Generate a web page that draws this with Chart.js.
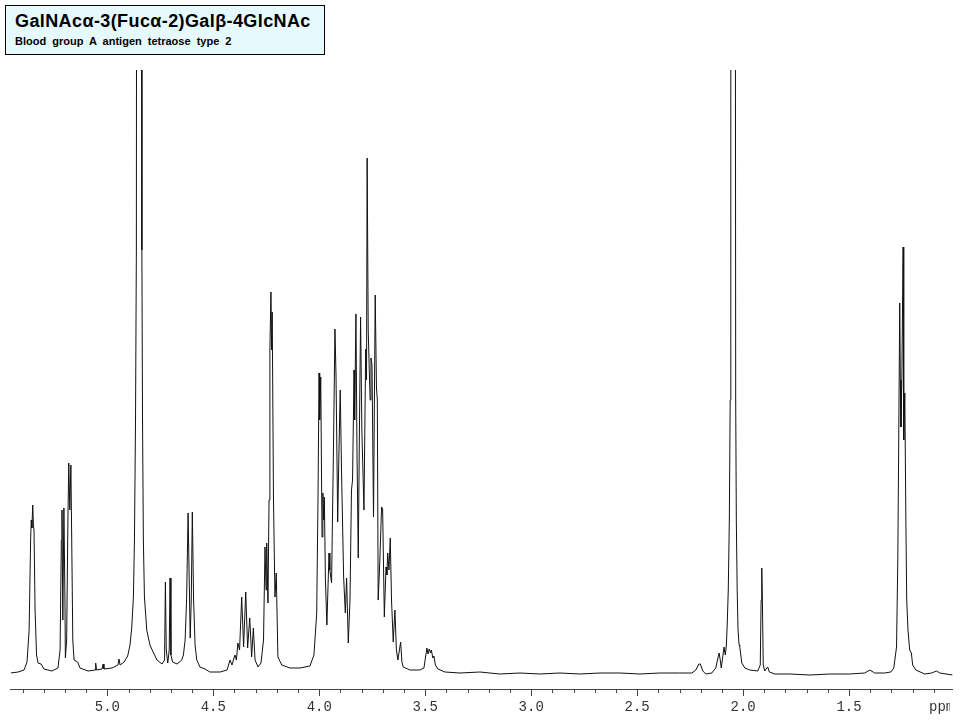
<!DOCTYPE html>
<html>
<head>
<meta charset="utf-8">
<script src="https://cdn.jsdelivr.net/npm/chart.js@4"></script>
<style>
  body { margin: 0; background: #fff; }
  #wrap { position: relative; width: 960px; height: 720px; }
  #title {
    position: absolute; left: 5px; top: 5px; width: 318px; height: 48px;
    background: #e6f9fc; border: 1px solid #000;
    font-family: "Liberation Sans", Arial, sans-serif; font-weight: bold; color: #000;
  }
  #title .main { position: absolute; left: 9px; top: 5px; font-size: 18px; letter-spacing: 0.4px; white-space: nowrap; }
  #title .sub { position: absolute; left: 9px; top: 29px; font-size: 11px; white-space: nowrap; word-spacing: 3px; }
</style>
</head>
<body>
<div id="wrap">
  <canvas id="spectrum" width="960" height="720"></canvas>
  <div id="title">
    <div class="main">GalNAcα-3(Fucα-2)Galβ-4GlcNAc</div>
    <div class="sub">Blood group A antigen tetraose type 2</div>
  </div>
</div>
<script>
// chemical shift axis (ppm), drawn right-to-left
const ppmLow = 1.011;
const ppmHigh = 5.456;
const majorTicks = [5.0, 4.5, 4.0, 3.5, 3.0, 2.5, 2.0, 1.5];
const minorStep = 0.1;

// spectrum trace: shift (ppm) and intensity (arbitrary units)
const shiftPpm = [
  // 5.45 - 5.10
  5.456, 5.421, 5.393, 5.379, 5.369, 5.362, 5.359, 5.356, 5.352, 5.349, 5.346, 5.341, 5.334, 5.327,
  5.313, 5.299, 5.261, 5.233, 5.223, 5.217, 5.214, 5.210, 5.205, 5.200, 5.198, 5.192, 5.186, 5.182,
  5.177, 5.172, 5.167, 5.163, 5.157, 5.140, 5.129,
  // 5.10 - 4.55 (HOD at 4.85)
  5.091, 5.058, 5.055, 5.051, 5.025, 5.020, 5.016, 4.978, 4.950, 4.945, 4.940, 4.921, 4.904, 4.893,
  4.885, 4.877, 4.872, 4.867, 4.863, 4.860, 4.841, 4.837, 4.834, 4.830, 4.825, 4.814, 4.799, 4.784,
  4.766, 4.742, 4.730, 4.726, 4.722, 4.715, 4.708, 4.704, 4.700, 4.692, 4.671, 4.649, 4.641, 4.633,
  4.626, 4.619, 4.612, 4.609, 4.604, 4.599, 4.593, 4.586, 4.578, 4.563, 4.539, 4.516,
  // 4.47 - 4.05
  4.468, 4.435, 4.421, 4.412, 4.398, 4.391, 4.384, 4.376, 4.366, 4.357, 4.347, 4.338, 4.328, 4.319,
  4.311, 4.303, 4.289, 4.275, 4.263, 4.256, 4.251, 4.248, 4.242, 4.237, 4.233, 4.228, 4.225, 4.222,
  4.216, 4.209, 4.203, 4.195, 4.177, 4.138, 4.091, 4.044,
  // 4.03 - 3.60 ring protons
  4.025, 4.012, 4.006, 4.001, 3.998, 3.993, 3.987, 3.983, 3.979, 3.976, 3.971, 3.964, 3.954, 3.950,
  3.942, 3.933, 3.926, 3.921, 3.913, 3.907, 3.901, 3.895, 3.885, 3.877, 3.871, 3.863, 3.855, 3.848,
  3.843, 3.839, 3.836, 3.833, 3.827, 3.822, 3.816, 3.810, 3.805, 3.799, 3.789, 3.781, 3.777, 3.774,
  3.769, 3.764, 3.760, 3.756, 3.751, 3.744, 3.736, 3.730, 3.726, 3.722, 3.714, 3.706, 3.701, 3.693,
  3.685, 3.681, 3.677, 3.671, 3.665, 3.659, 3.651, 3.643, 3.636, 3.629, 3.616, 3.610, 3.604,
  // 3.57 - 2.20
  3.572, 3.525, 3.506, 3.497, 3.492, 3.487, 3.481, 3.475, 3.471, 3.464, 3.459, 3.452, 3.440, 3.407,
  3.336, 3.242, 3.148, 3.053, 2.959, 2.865, 2.770, 2.676, 2.582, 2.487, 2.393, 2.299, 2.242, 2.223,
  2.209, 2.202, 2.190, 2.176, 2.148,
  // 2.13 - 1.85 (NHAc at 2.05)
  2.129, 2.119, 2.113, 2.108, 2.103, 2.098, 2.090, 2.084, 2.079, 2.075, 2.070, 2.065, 2.061, 2.058,
  2.039, 2.035, 2.032, 2.028, 2.024, 2.019, 2.016, 2.011, 2.006, 1.992, 1.968, 1.931, 1.919, 1.915,
  1.912, 1.909, 1.905, 1.898, 1.888, 1.884, 1.876, 1.850,
  // 1.78 - 1.01 (Fuc CH3 at 1.25)
  1.780, 1.685, 1.591, 1.497, 1.426, 1.402, 1.379, 1.332, 1.303, 1.289, 1.276, 1.270, 1.266, 1.261,
  1.258, 1.255, 1.251, 1.245, 1.242, 1.237, 1.232, 1.228, 1.222, 1.214, 1.206, 1.200, 1.185, 1.143,
  1.110, 1.088, 1.072, 1.012
];

const intensity = [
  // 5.45 - 5.10
  -1, 0, 2, 10, 42, 132, 152, 144, 167, 147, 142, 62, 17, 9,
  8, 3, 1, 4, 22, 132, 162, 52, 164, 72, 14, 32, 152, 209,
  162, 207, 112, 32, 12, 10, 4,
  // 5.10 - 4.55
  1, 2, 9, 2, 3, 8, 3, 4, 7, 13, 7, 10, 16, 27,
  44, 75, 132, 252, 422, 1400, 1400, 422, 252, 132, 75, 42, 27, 20,
  12, 8, 12, 90, 22, 9, 22, 94, 17, 10, 8, 12, 17, 32,
  72, 159, 72, 34, 72, 160, 72, 27, 12, 5, 3, 0,
  // 4.47 - 4.05
  0, 2, 12, 7, 17, 12, 29, 22, 75, 25, 80, 24, 54, 15,
  44, 12, 5, 9, 32, 125, 82, 129, 69, 172, 322, 380, 322, 360,
  172, 75, 99, 15, 7, 4, 4, 6,
  // 4.03 - 3.60
  17, 59, 172, 299, 252, 295, 135, 179, 152, 175, 92, 47, 119, 102,
  89, 222, 343, 297, 150, 222, 282, 202, 95, 59, 94, 29, 72, 182,
  192, 252, 302, 252, 358, 222, 114, 252, 355, 242, 162, 323, 292, 514,
  342, 302, 272, 314, 307, 155, 377, 284, 272, 72, 112, 165, 163, 55,
  105, 97, 119, 102, 134, 72, 30, 62, 22, 12, 30, 10, 5,
  // 3.57 - 2.20
  2, 2, 4, 17, 24, 18, 23, 19, 22, 14, 16, 7, 3, 0,
  -1, 0, -2, -1, -2, -1, -2, -1, -1, -2, -1, -1, -1, 2,
  8, 8, 1, -2, -1,
  // 2.13 - 1.85
  4, 14, 19, 12, 4, 12, 25, 17, 27, 47, 82, 152, 272, 1400,
  1400, 272, 152, 82, 42, 27, 26, 17, 9, 4, 2, 1, 7, 72,
  104, 72, 7, 1, 4, 5, 0, -2,
  // 1.78 - 1.01
  -2, -3, -2, -2, -1, 2, -1, -1, 0, 4, 25, 112, 222, 369,
  292, 245, 292, 425, 232, 279, 152, 72, 42, 22, 19, 7, 2, -2,
  -1, 1, -1, -3
];

const minorTicksPlugin = {
  id: "minorTicks",
  afterDraw(chart) {
    const { ctx, chartArea, scales } = chart;
    const scale = scales.x;
    ctx.save();
    ctx.strokeStyle = "#444";
    ctx.lineWidth = 1;
    ctx.beginPath();
    for (let k = Math.ceil(ppmLow / minorStep); k * minorStep <= ppmHigh; k++) {
      if (k % 5 === 0) continue;
      const px = Math.round(scale.getPixelForValue(k * minorStep)) + 0.5;
      ctx.moveTo(px, chartArea.bottom);
      ctx.lineTo(px, chartArea.bottom + 4);
    }
    ctx.stroke();
    // unit label, cut off at the axis end as in the original plot
    ctx.beginPath();
    ctx.rect(0, chartArea.bottom, chartArea.right - 3, 40);
    ctx.clip();
    ctx.fillStyle = "#333";
    ctx.font = "14px 'Liberation Mono', monospace";
    ctx.textBaseline = "middle";
    ctx.textAlign = "left";
    ctx.fillText("ppm", 929, chartArea.bottom + 18);
    ctx.restore();
  },
};

const points = shiftPpm.map((x, i) => ({ x: x, y: intensity[i] }));

new Chart(document.getElementById("spectrum"), {
  type: "line",
  data: {
    datasets: [{
      data: points,
      borderColor: "#111",
      borderWidth: 1,
      pointRadius: 0,
      tension: 0,
      fill: false,
    }],
  },
  options: {
    responsive: false,
    animation: false,
    layout: { padding: { left: 10.7, right: 7.3, top: 70, bottom: 4 } },
    plugins: { legend: { display: false }, tooltip: { enabled: false } },
    scales: {
      x: {
        type: "linear",
        reverse: true,
        min: ppmLow,
        max: ppmHigh,
        afterFit: (s) => { s.height = 27; },
        afterBuildTicks: (s) => { s.ticks = majorTicks.map((v) => ({ value: v })); },
        grid: { drawOnChartArea: false, tickLength: 7, color: "#444" },
        border: { color: "#444", width: 1 },
        ticks: {
          autoSkip: false,
          maxRotation: 0,
          padding: 3,
          color: "#333",
          font: { family: "'Liberation Mono', monospace", size: 14 },
          callback: (v) => Number(v).toFixed(1),
        },
      },
      y: { display: false, min: -17, max: 602 },
    },
  },
  plugins: [minorTicksPlugin],
});
</script>
</body>
</html>
